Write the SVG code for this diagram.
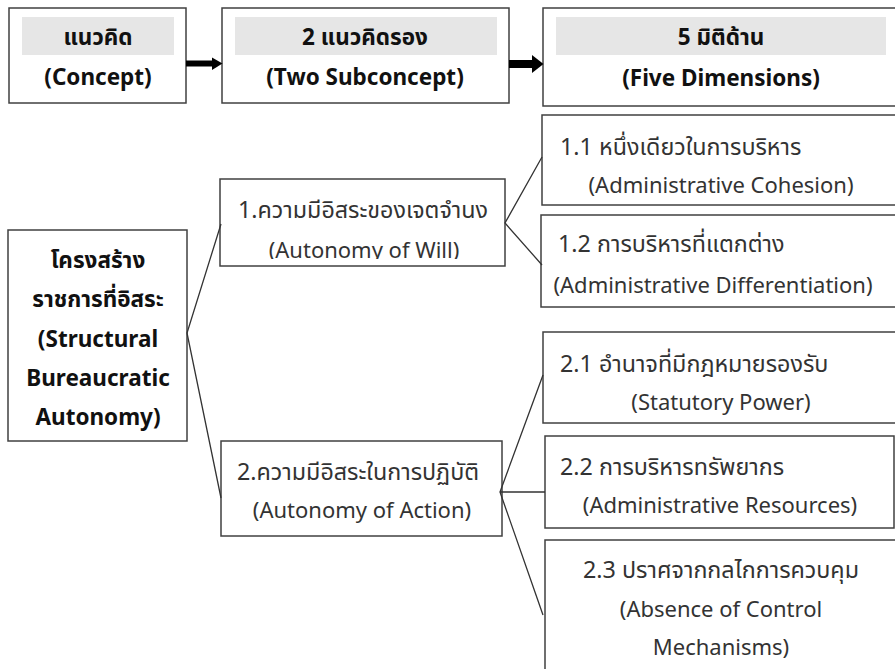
<svg xmlns="http://www.w3.org/2000/svg" width="895" height="669" viewBox="0 0 895 669">
<style>
.box{fill:#fff;stroke:#404040;stroke-width:1.5}
.band{fill:#e6e6e6}
.h{font-family:"Noto Sans","Noto Sans Thai","Open Sans",sans-serif;font-size:22.5px;font-weight:bold;fill:#111;text-anchor:middle}
.b{font-family:"Noto Sans","Noto Sans Thai","Open Sans",sans-serif;font-size:22px;fill:#333}
.t{font-size:23.3px}
.m{text-anchor:middle}
.c{stroke:#333;stroke-width:1.3;fill:none}
</style>
<defs>
<clipPath id="clipW"><rect x="221" y="180" width="283" height="79"/></clipPath>
</defs>
<g id="head-concept">
<rect class="box" x="9" y="8" width="177" height="95"/>
<rect class="band" x="22" y="17" width="152" height="38"/>
<text class="h" x="98" y="45">แนวคิด</text>
<text class="h" x="98" y="85">(Concept)</text>
</g>
<g id="head-sub">
<rect class="box" x="222" y="8" width="287" height="95"/>
<rect class="band" x="235" y="17" width="262" height="38"/>
<text class="h" x="365" y="45">2 แนวคิดรอง</text>
<text class="h" x="365" y="85">(Two Subconcept)</text>
</g>
<g id="head-dim">
<rect class="box" x="543" y="8" width="360" height="98"/>
<rect class="band" x="556" y="17" width="330" height="38"/>
<text class="h" x="721" y="45">5 มิติด้าน</text>
<text class="h" x="721" y="86">(Five Dimensions)</text>
</g>
<g id="root">
<rect class="box" x="8" y="230" width="179" height="211"/>
<text class="h" x="98" y="268" font-size="25">โครงสร้าง</text>
<text class="h" x="98" y="307" font-size="25.5">ราชการที่อิสระ</text>
<text class="h" x="98" y="347" font-size="23.5">(Structural</text>
<text class="h" x="98" y="386" font-size="23.5">Bureaucratic</text>
<text class="h" x="98" y="425" font-size="23.5">Autonomy)</text>
</g>
<g id="sub1">
<rect class="box" x="220" y="179" width="285" height="87"/>
<text class="b t" x="238" y="218">1.ความมีอิสระของเจตจำนง</text>
<text class="b m" x="364" y="258" clip-path="url(#clipW)">(Autonomy of Will)</text>
</g>
<g id="sub2">
<rect class="box" x="221" y="441" width="281" height="95"/>
<text class="b t" x="237" y="480" font-size="24">2.ความมีอิสระในการปฏิบัติ</text>
<text class="b m" x="362" y="518">(Autonomy of Action)</text>
</g>
<g id="dim11">
<rect class="box" x="542" y="115" width="360" height="90"/>
<text class="b t" x="560" y="155">1.1 หนึ่งเดียวในการบริหาร</text>
<text class="b m" x="721" y="193">(Administrative Cohesion)</text>
</g>
<g id="dim12">
<rect class="box" x="541" y="215" width="361" height="92"/>
<text class="b t" x="558" y="252">1.2 การบริหารที่แตกต่าง</text>
<text class="b m" x="713" y="293">(Administrative Differentiation)</text>
</g>
<g id="dim21">
<rect class="box" x="543" y="332" width="360" height="91"/>
<text class="b t" x="560" y="372">2.1 อำนาจที่มีกฎหมายรองรับ</text>
<text class="b m" x="721" y="410">(Statutory Power)</text>
</g>
<g id="dim22">
<rect class="box" x="545" y="436" width="349" height="92"/>
<text class="b t" x="560" y="475">2.2 การบริหารทรัพยากร</text>
<text class="b m" x="720" y="513">(Administrative Resources)</text>
</g>
<g id="dim23">
<rect class="box" x="545" y="540" width="360" height="140"/>
<text class="b t m" x="721" y="578">2.3 ปราศจากกลไกการควบคุม</text>
<text class="b m" x="721" y="617">(Absence of Control</text>
<text class="b m" x="721" y="655">Mechanisms)</text>
</g>
<g id="connectors">
<path d="M186 63.5H213" stroke="#000" stroke-width="6" fill="none"/>
<path d="M212 57.5L222.5 63.5L212 70Z" fill="#000"/>
<path d="M509 64H534" stroke="#000" stroke-width="8" fill="none"/>
<path d="M532 55L543.5 64L532 73Z" fill="#000"/>
<path class="c" d="M221 224L187 333L221 498"/>
<path class="c" d="M542 157L505 223L542 265"/>
<path class="c" d="M543 375L500 492L543 615M500 492H545"/>
</g>
</svg>
